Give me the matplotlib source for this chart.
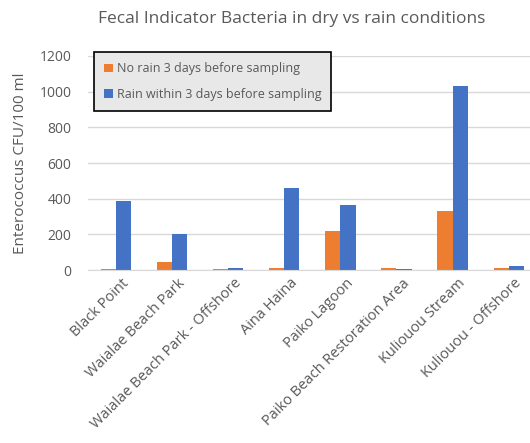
import matplotlib
matplotlib.use("Agg")
import matplotlib.pyplot as plt
import numpy as np

sites = ["Black Point", "Waialae Beach Park", "Waialae Beach Park - Offshore",
         "Aina Haina", "Paiko Lagoon", "Paiko Beach Restoration Area",
         "Kuliouou Stream", "Kuliouou - Offshore"]
no_rain = [8, 48, 8, 15, 220, 15, 331, 15]
rain = [387, 203, 15, 461, 365, 8, 1029, 22]

ORANGE = "#ED7D31"
BLUE = "#4472C4"
GREY = "#595959"

plt.rcParams['font.family'] = ['Open Sans', 'DejaVu Sans']


def main():
    fig = plt.figure(figsize=(5.3, 4.43), dpi=100)
    ax = fig.add_axes([0.166, 0.39, 0.834, 0.484])

    x = np.arange(len(sites))
    w = 0.27
    ax.bar(x - w / 2, no_rain, w, color=ORANGE, label="No rain 3 days before sampling")
    ax.bar(x + w / 2, rain, w, color=BLUE, label="Rain within 3 days before sampling")

    ax.set_xlim(-0.5, 7.38)
    ax.set_ylim(0, 1200)
    ax.set_yticks(range(0, 1201, 200))
    ax.yaxis.grid(True, color="#d9d9d9", lw=1)
    ax.set_axisbelow(True)
    for s in ["top", "right", "left"]:
        ax.spines[s].set_visible(False)
    ax.spines["bottom"].set_color("#d9d9d9")
    ax.tick_params(axis="both", length=0, colors=GREY, labelsize=10)
    ax.tick_params(axis="y", pad=12)
    ax.tick_params(axis="x", labelsize=10.5, pad=4)

    ax.set_xticks(x + 0.1)
    ax.set_xticklabels(sites, rotation=45, ha="right", rotation_mode="anchor")

    ax.set_ylabel("Enterococcus CFU/100 ml", color=GREY, fontsize=11, labelpad=8)
    fig.suptitle("Fecal Indicator Bacteria in dry vs rain conditions",
                 x=0.55, y=0.975, color=GREY, fontsize=12.5)

    leg = ax.legend(loc="upper left", bbox_to_anchor=(0.0, 1.045), fontsize=9,
                    frameon=True, fancybox=False, handlelength=0.7, handleheight=0.7,
                    borderpad=0.8, labelspacing=1.0, handletextpad=0.3)
    leg.get_frame().set_facecolor("#e8e8e8")
    leg.get_frame().set_edgecolor("black")
    leg.get_frame().set_alpha(1)
    leg.get_frame().set_linewidth(1.2)
    for t in leg.get_texts():
        t.set_color(GREY)

    fig.savefig("out.png", dpi=100)


if __name__ == '__main__':
    main()
